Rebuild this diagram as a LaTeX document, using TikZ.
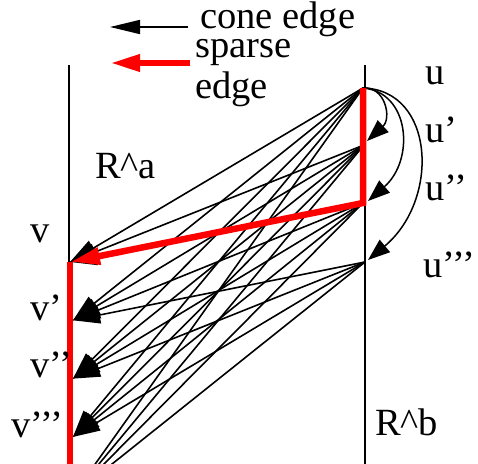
\documentclass[tikz,border=0pt]{standalone}
\usepackage{fontspec}
\setmainfont{Liberation Serif}
\usetikzlibrary{arrows.meta}
\begin{document}
\begin{tikzpicture}[x=1pt,y=-1pt,
  cone/.style={line width=1.6pt,-{Triangle[length=27pt,width=17pt]}},
  legcone/.style={line width=1.6pt,-{Triangle[length=30pt,width=14pt]}},
  arc/.style={line width=1.5pt,-{Triangle[length=22pt,width=16pt]}},
  sparsepath/.style={red,line width=6.5pt,line join=miter,-{Triangle[length=30pt,width=16pt]}},
  sparseline/.style={red,line width=6.5pt},
  rail/.style={line width=1.5pt},
  lbl/.style={anchor=base west,inner sep=0pt,font=\fontsize{38.5}{40}\selectfont}]
\useasboundingbox (0,0) rectangle (478,463);
\clip (0,0) rectangle (478,463);
% points
\coordinate (u0) at (363,88);
\coordinate (u1) at (364,145);
\coordinate (u2) at (363,203);
\coordinate (u3) at (365,262);
\coordinate (v0) at (70,262);
\foreach \j in {1,2,3,4} {\coordinate (v\j) at (73,{262+58.3*\j});}
\coordinate (ltop) at (69,65);
\coordinate (lbot) at (69,470);
\coordinate (rtop) at (365,65);
\coordinate (rbot) at (365,470);
\coordinate (vbot) at (70,470);
\coordinate (t1) at (367,141);
\coordinate (t2) at (368,201);
\coordinate (t3) at (368,260);
% legend
\coordinate (la1) at (188,27);
\coordinate (la2) at (110,27);
\coordinate (lb1) at (190,63);
\coordinate (lb2) at (110,63);
\draw[legcone] (la1) -- (la2);
\draw[sparsepath] (lb1) -- (lb2);
\node[lbl] (tcone) at (200,28) {cone edge};
\node[lbl] (tsparse) at (195,57) {sparse};
\node[lbl] (tedge) at (195,98) {edge};
% rails
\draw[rail] (ltop) -- (lbot);
\draw[rail] (rtop) -- (rbot);
% cone edges
\foreach \k in {0,1,2} {\foreach \j in {0,1,2,3,4} {\draw[cone] (u\k) -- (v\j);}}
\foreach \j in {1,2,3,4} {\draw[cone] (u3) -- (v\j);}
% curved cone edges on the right
\draw[arc] (u0) .. controls (385,86) and (392,118) .. (t1);
\draw[arc] (u0) .. controls (410,92) and (415,160) .. (t2);
\draw[arc] (u0) .. controls (435,90) and (440,200) .. (t3);
% sparse edges
\draw[sparseline] (v0) -- (vbot);
\draw[sparsepath] (u0) -- (u2) -- (v0);
% labels
\node[lbl] (lu0) at (425,84) {u};
\node[lbl] (lu1) at (425,142) {u’};
\node[lbl] (lu2) at (425,200) {u’’};
\node[lbl] (lu3) at (423,277) {u’’’};
\node[lbl] (lra) at (95,178) {R\textasciicircum a};
\node[lbl] (lv0) at (30,242) {v};
\node[lbl] (lv1) at (30,320) {v’};
\node[lbl] (lv2) at (30,377) {v’’};
\node[lbl] (lv3) at (11,437) {v’’’};
\node[lbl] (lrb) at (375,435) {R\textasciicircum b};
\end{tikzpicture}
\end{document}
